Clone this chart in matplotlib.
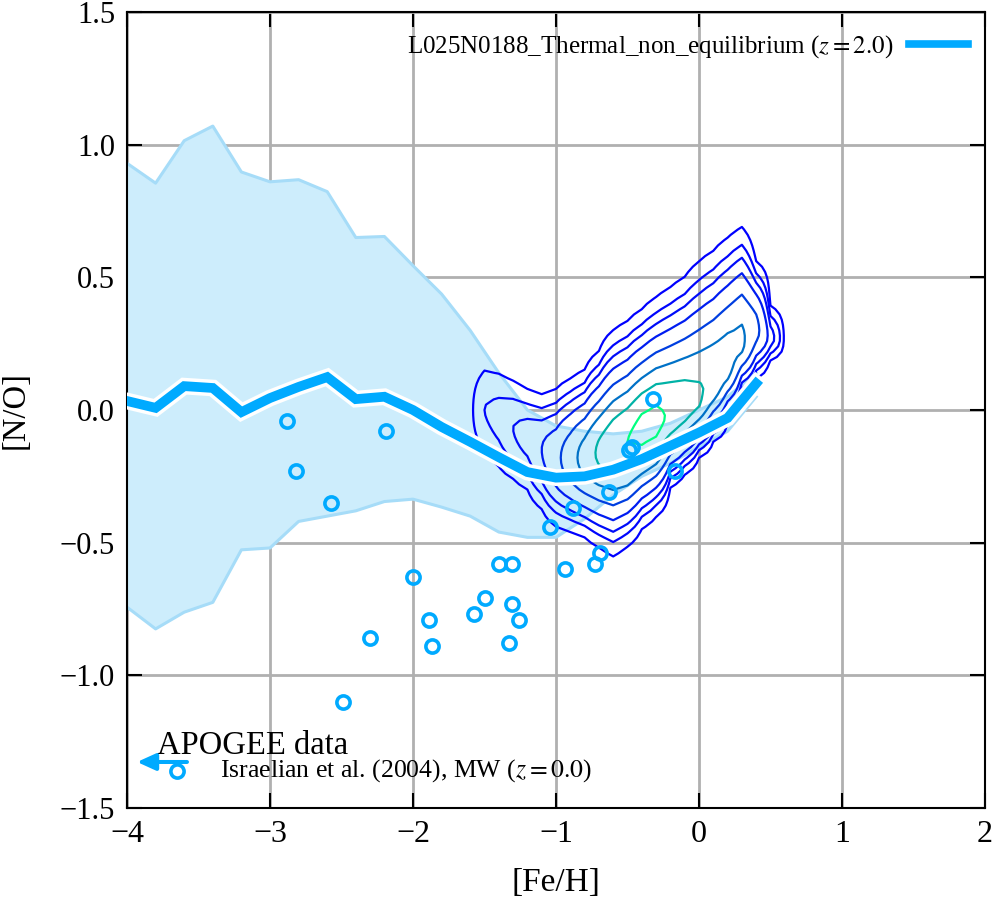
import numpy as np
import matplotlib
matplotlib.use("Agg")
import matplotlib.pyplot as plt
from matplotlib.lines import Line2D
import matplotlib.patheffects as pe

plt.rcParams['font.family'] = ['Liberation Serif', 'DejaVu Serif']
plt.rcParams['mathtext.fontset'] = 'stix'

# ---------------- data ----------------
# EAGLE median relation and 16-84 band
feh_sim = [-4.0, -3.8, -3.6, -3.4, -3.2, -3.0, -2.8, -2.6, -2.4, -2.2, -2.0, -1.8,
           -1.6, -1.4, -1.2, -1.0, -0.8, -0.6, -0.4, -0.2, 0.0, 0.2, 0.4]
no_median = [0.034, 0.008, 0.09, 0.083, -0.008, 0.045, 0.087, 0.124, 0.041, 0.05, 0.0, -0.064,
             -0.12, -0.178, -0.234, -0.255, -0.25, -0.225, -0.185, -0.135, -0.085, -0.03, 0.10]
no_upper = [0.93, 0.855, 1.015, 1.07, 0.897, 0.86, 0.868, 0.823, 0.65, 0.654, 0.544, 0.437,
            0.30, 0.14, 0.0, -0.06, -0.08, -0.09, -0.08, -0.05, 0.0, 0.05, 0.14]
no_lower = [-0.743, -0.825, -0.762, -0.725, -0.527, -0.52, -0.42, -0.40, -0.38, -0.345, -0.336, -0.366,
            -0.40, -0.46, -0.48, -0.48, -0.41, -0.32, -0.25, -0.20, -0.14, -0.08, 0.05]

# Israelian et al. (2004) MW stars
feh_obs = [-2.88, -2.82, -2.57, -2.19, -2.30, -2.49, -2.00, -1.89, -1.87, -1.57, -1.50, -1.40, -1.31,
           -1.31, -1.26, -1.33, -1.04, -0.94, -0.88, -0.69, -0.73, -0.63, -0.49, -0.47, -0.32, -0.17]
no_obs = [-0.04, -0.23, -0.35, -0.08, -0.86, -1.10, -0.63, -0.79, -0.89, -0.77, -0.71, -0.58, -0.58,
          -0.73, -0.79, -0.88, -0.44, -0.60, -0.37, -0.54, -0.58, -0.31, -0.15, -0.14, 0.04, -0.23]

# APOGEE density ridge (per [Fe/H] bin): peak count, ridge centre, spread above / below
apo_feh = [-1.6, -1.5, -1.4, -1.3, -1.2, -1.1, -1.0, -0.9, -0.8, -0.7, -0.6, -0.5,
           -0.4, -0.3, -0.2, -0.1, 0.0, 0.1, 0.2, 0.3, 0.4, 0.5, 0.6]
apo_peak = [0.5, 3, 4, 6, 8, 12, 20, 35, 55, 75, 90, 100, 110, 110, 95, 85, 75, 65, 58, 50, 30, 8, 0.5]
apo_centre = [0.0, 0.0, -0.03, -0.07, -0.10, -0.15, -0.18, -0.18, -0.18, -0.16, -0.14, -0.12,
              -0.08, -0.05, -0.02, 0.01, 0.04, 0.10, 0.17, 0.25, 0.30, 0.27, 0.27]
apo_sup = [0.10, 0.10, 0.10, 0.095, 0.088, 0.094, 0.106, 0.112, 0.117, 0.13, 0.147, 0.15,
           0.15, 0.155, 0.16, 0.165, 0.177, 0.173, 0.168, 0.157, 0.10, 0.06, 0.05]
apo_slo = [0.10, 0.10, 0.11, 0.10, 0.098, 0.10, 0.106, 0.105, 0.106, 0.122, 0.137, 0.13,
           0.12, 0.115, 0.09, 0.085, 0.075, 0.076, 0.077, 0.071, 0.07, 0.04, 0.04]
apo_levels = [1, 3, 6, 12, 25, 45, 70, 100]

xticks = [-4, -3, -2, -1, 0, 1, 2]
yticks = [-1.5, -1.0, -0.5, 0.0, 0.5, 1.0, 1.5]

# ---------------- figure ----------------
W, H = 996, 900
fig = plt.figure(figsize=(W / 100, H / 100), dpi=100)
ax = fig.add_axes([127 / W, 1 - 808 / H, (985 - 127) / W, (808 - 12) / H])

blue = '#00aaff'

# band
ax.fill_between(feh_sim, no_lower, no_upper, color='#cdedfc', lw=0, zorder=1)
ax.plot(feh_sim, no_upper, color='#a6dcf8', lw=2.2, zorder=1.5, solid_joinstyle='round')
ax.plot(feh_sim, no_lower, color='#a6dcf8', lw=2.2, zorder=1.5, solid_joinstyle='round')

# density contours
ygrid = np.arange(-0.8, 0.9001, 0.02)
A = np.array(apo_peak)[None, :]
C = np.array(apo_centre)[None, :]
SU = np.array(apo_sup)[None, :]
SL = np.array(apo_slo)[None, :]
Y = ygrid[:, None]
S = np.where(Y > C, SU, SL)
Z = A * np.exp(-0.5 * ((Y - C) / S) ** 2)
ax.contour(apo_feh, ygrid, Z, levels=apo_levels, cmap='winter',
           vmin=apo_levels[0], vmax=apo_levels[-1], linewidths=1.6, zorder=2)

# median line
ax.plot(feh_sim, no_median, color=blue, lw=7, zorder=3, solid_joinstyle='miter',
        path_effects=[pe.Stroke(linewidth=12, foreground='white'), pe.Normal()])

# observations
ax.plot(feh_obs, no_obs, ls='none', marker='o', ms=9.5, mfc='none', mec=blue, mew=2.6, zorder=4)

# axes styling
ax.set_xlim(-4, 2)
ax.set_ylim(-1.5, 1.5)
ax.set_xticks(xticks)
ax.set_yticks(yticks)
ax.set_xticklabels([f"{t:d}".replace('-', '\u2212') for t in xticks])
ax.set_yticklabels([f"{t:.1f}".replace('-', '\u2212') for t in yticks])
ax.grid(True, color='#b0b0b0', lw=2.0, zorder=0)
ax.set_axisbelow(True)
ax.tick_params(direction='in', length=10.8, width=1.5, top=True, right=True, pad=8.5)
ax.tick_params(axis='x', labelsize=23)
ax.tick_params(axis='y', labelsize=22)
for s in ax.spines.values():
    s.set_linewidth(1.5)

ax.set_xlabel('[Fe/H]', fontsize=24)
ax.set_ylabel('[N/O]', fontsize=23.5)
ax.xaxis.set_label_coords(0.5, -0.075)
ax.yaxis.set_label_coords(-0.112, 0.5)

# legend (top right)
h = Line2D([], [], color=blue, lw=5.5)
leg = ax.legend([h], [r'L025N0188_Thermal_non_equilibrium ($z=2.0$)'], loc='center right',
                bbox_to_anchor=(0.980, 0.956), frameon=False, markerfirst=False, fontsize=18,
                borderpad=0, borderaxespad=0, handlelength=2.35, handletextpad=0.65)

# bottom-left annotations
ax.text(0.035, 0.0678, 'APOGEE data', transform=ax.transAxes, fontsize=23.5, va='baseline', ha='left')
ax.annotate('', xy=(0.0117, 0.0578), xytext=(0.0699, 0.0578), xycoords='axes fraction',
            arrowprops=dict(arrowstyle='-|>,head_length=0.55,head_width=0.25', mutation_scale=20,
                            color=blue, lw=2.9, shrinkA=0, shrinkB=0))
ax.plot([0.0583], [0.0465], transform=ax.transAxes, marker='o', ms=9.5, mfc='none', mec=blue,
        mew=2.6, clip_on=False, zorder=5)
ax.text(0.1084, 0.0465, r'Israelian et al. (2004), MW ($z=0.0$)', transform=ax.transAxes,
        fontsize=18.5, va='center', ha='left')

fig.savefig('out.png', dpi=100)
